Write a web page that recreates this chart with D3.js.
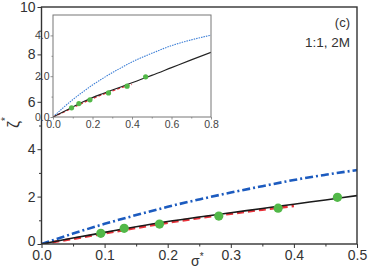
<!DOCTYPE html>
<html><head><meta charset="utf-8">
<script src="https://cdn.jsdelivr.net/npm/d3@7"></script>
<style>body{margin:0;background:#fff}svg{display:block}text{font-family:"Liberation Sans",Arial,sans-serif}</style>
</head><body><svg id="c" width="368" height="273"></svg>
<script>
// data
const curveX   = [0, 0.05, 0.1, 0.15, 0.2, 0.25, 0.3, 0.35, 0.4, 0.45, 0.5, 0.6, 0.7, 0.8];
const blackY   = [0, 0.25, 0.49, 0.73, 0.95, 1.14, 1.32, 1.50, 1.68, 1.86, 2.04, 2.42, 2.80, 3.17];
const blueY    = [0, 0.44, 0.85, 1.22, 1.57, 1.88, 2.17, 2.44, 2.70, 2.92, 3.12, 3.50, 3.78, 4.01];
const redX     = [0, 0.05, 0.1, 0.15, 0.2, 0.25, 0.3, 0.35, 0.4];
const redY     = [0, 0.22, 0.45, 0.68, 0.90, 1.10, 1.28, 1.45, 1.60];
const pointX   = [0.094, 0.131, 0.187, 0.281, 0.375, 0.469];
const pointY   = [0.45, 0.66, 0.84, 1.18, 1.51, 1.97];
const mainXTicks = [0, 0.1, 0.2, 0.3, 0.4, 0.5];
const mainYTicks = [0, 2, 4, 6, 8, 10];
const insetXTicks = [0, 0.2, 0.4, 0.6, 0.8];
const insetYTicks = [0, 2, 4];
const panelLabel = "(c)";
const caseLabel = "1:1, 2M";

const svg = d3.select("#c");
const x = d3.scaleLinear().domain([0, 0.5]).range([41.5, 357]);
const y = d3.scaleLinear().domain([0, 10]).range([244, 7]);
const xi = d3.scaleLinear().domain([0, 0.8]).range([53, 211]);
const yi = d3.scaleLinear().domain([0, 5]).range([117, 15]);

const pts = (xs, ys, lim) => xs.map((v, i) => [v, ys[i]]).filter(d => d[0] <= lim + 1e-9);

// main clip
svg.append("clipPath").attr("id", "mc").append("rect")
  .attr("x", 41.5).attr("y", 7).attr("width", 357 - 41.5).attr("height", 237);

const g = svg.append("g").attr("clip-path", "url(#mc)");
const line = d3.line().x(d => x(d[0])).y(d => y(d[1])).curve(d3.curveMonotoneX);

g.append("path").attr("d", line(pts(redX, redY, 0.5))).attr("fill", "none")
  .attr("stroke", "#e8323a").attr("stroke-width", 2.6).attr("stroke-dasharray", "7,4");
g.append("path").attr("d", line(pts(curveX, blueY, 0.5))).attr("fill", "none")
  .attr("stroke", "#1c5bbf").attr("stroke-width", 2.6).attr("stroke-dasharray", "8,3,2,3");
g.append("path").attr("d", line(pts(curveX, blackY, 0.5))).attr("fill", "none")
  .attr("stroke", "#1a1a1a").attr("stroke-width", 1.6);
g.selectAll("circle.p").data(pointX).join("circle").attr("class", "p")
  .attr("cx", d => x(d)).attr("cy", (d, i) => y(pointY[i])).attr("r", 4.6)
  .attr("fill", "#52b848");

// main frame
svg.append("rect").attr("x", 41.5).attr("y", 7).attr("width", 357 - 41.5).attr("height", 237)
  .attr("fill", "none").attr("stroke", "#333").attr("stroke-width", 1.4);

// main axes
svg.append("g").attr("transform", "translate(0,244)")
  .call(d3.axisBottom(x).tickValues(mainXTicks).tickFormat(d3.format(".1f")).tickSize(4).tickPadding(2));
svg.append("g").attr("transform", "translate(0,244)")
  .call(d3.axisBottom(x).tickValues(d3.range(0.05, 0.5, 0.1)).tickFormat("").tickSize(2.5));
const yAx = svg.append("g").attr("transform", "translate(41.5,0)")
  .call(d3.axisLeft(y).tickValues(mainYTicks).tickSize(4).tickPadding(2));
svg.append("g").attr("transform", "translate(41.5,0)")
  .call(d3.axisLeft(y).tickValues(d3.range(1, 10, 2)).tickFormat("").tickSize(2.5));
svg.selectAll(".domain").remove();
svg.selectAll(".tick line").attr("stroke", "#333").attr("stroke-width", 1);
svg.selectAll(".tick text").attr("font-size", 14).attr("fill", "#333");
yAx.selectAll(".tick text").filter(d => d === 0).attr("dy", "0.1em");

// inset
const ig = svg.append("g");
ig.append("rect").attr("x", 53).attr("y", 15).attr("width", 211 - 53).attr("height", 102)
  .attr("fill", "#fff").attr("stroke", "none");
svg.append("clipPath").attr("id", "ic").append("rect")
  .attr("x", 53).attr("y", 15).attr("width", 211 - 53).attr("height", 102);
const ic = ig.append("g").attr("clip-path", "url(#ic)");
const iline = d3.line().x(d => xi(d[0])).y(d => yi(d[1])).curve(d3.curveMonotoneX);
ic.append("path").attr("d", iline(pts(curveX, blueY, 0.8))).attr("fill", "none")
  .attr("stroke", "#3d7fd6").attr("stroke-width", 1.1).attr("stroke-dasharray", "1.5,1");
ic.append("path").attr("d", iline(pts(redX, redY, 0.8))).attr("fill", "none")
  .attr("stroke", "#e8323a").attr("stroke-width", 1.3).attr("stroke-dasharray", "3,2");
ic.append("path").attr("d", iline(pts(curveX, blackY, 0.8))).attr("fill", "none")
  .attr("stroke", "#222").attr("stroke-width", 1.1);
ic.selectAll("circle").data(pointX).join("circle")
  .attr("cx", d => xi(d)).attr("cy", (d, i) => yi(pointY[i])).attr("r", 2.6)
  .attr("fill", "#52b848");
ig.append("rect").attr("x", 53).attr("y", 15).attr("width", 211 - 53).attr("height", 102)
  .attr("fill", "none").attr("stroke", "#777").attr("stroke-width", 1);

ig.append("g").attr("transform", "translate(0,117)")
  .call(d3.axisBottom(xi).tickValues(insetXTicks).tickFormat(d3.format(".1f")).tickSize(2.5).tickPadding(1));
ig.append("g").attr("transform", "translate(0,117)")
  .call(d3.axisBottom(xi).tickValues(d3.range(0.1, 0.8, 0.2)).tickFormat("").tickSize(1.5));
ig.append("g").attr("transform", "translate(53,0)")
  .call(d3.axisLeft(yi).tickValues(insetYTicks).tickSize(2.5).tickPadding(1));
ig.append("g").attr("transform", "translate(53,0)")
  .call(d3.axisLeft(yi).tickValues([1, 3]).tickFormat("").tickSize(1.5));
ig.selectAll(".domain").remove();
ig.selectAll(".tick line").attr("stroke", "#777").attr("stroke-width", 0.8);
ig.selectAll(".tick text").attr("font-size", 10.5).attr("fill", "#444");

// labels
svg.append("text").attr("x", 350).attr("y", 27).attr("text-anchor", "end")
  .attr("font-size", 13).attr("fill", "#333").text(panelLabel);
svg.append("text").attr("x", 350).attr("y", 47).attr("text-anchor", "end")
  .attr("font-size", 13.5).attr("fill", "#333").text(caseLabel);

const xl = svg.append("text").attr("x", 191).attr("y", 266).attr("font-size", 14).attr("fill", "#333");
xl.append("tspan").text("σ");
xl.append("tspan").attr("dy", -6).attr("font-size", 10).text("*");

const yl = svg.append("text").attr("transform", "translate(19,128) rotate(-90)")
  .attr("font-size", 16).attr("fill", "#333");
yl.append("tspan").text("ζ");
yl.append("tspan").attr("dy", -10).attr("font-size", 10).text("*");
</script></body></html>
